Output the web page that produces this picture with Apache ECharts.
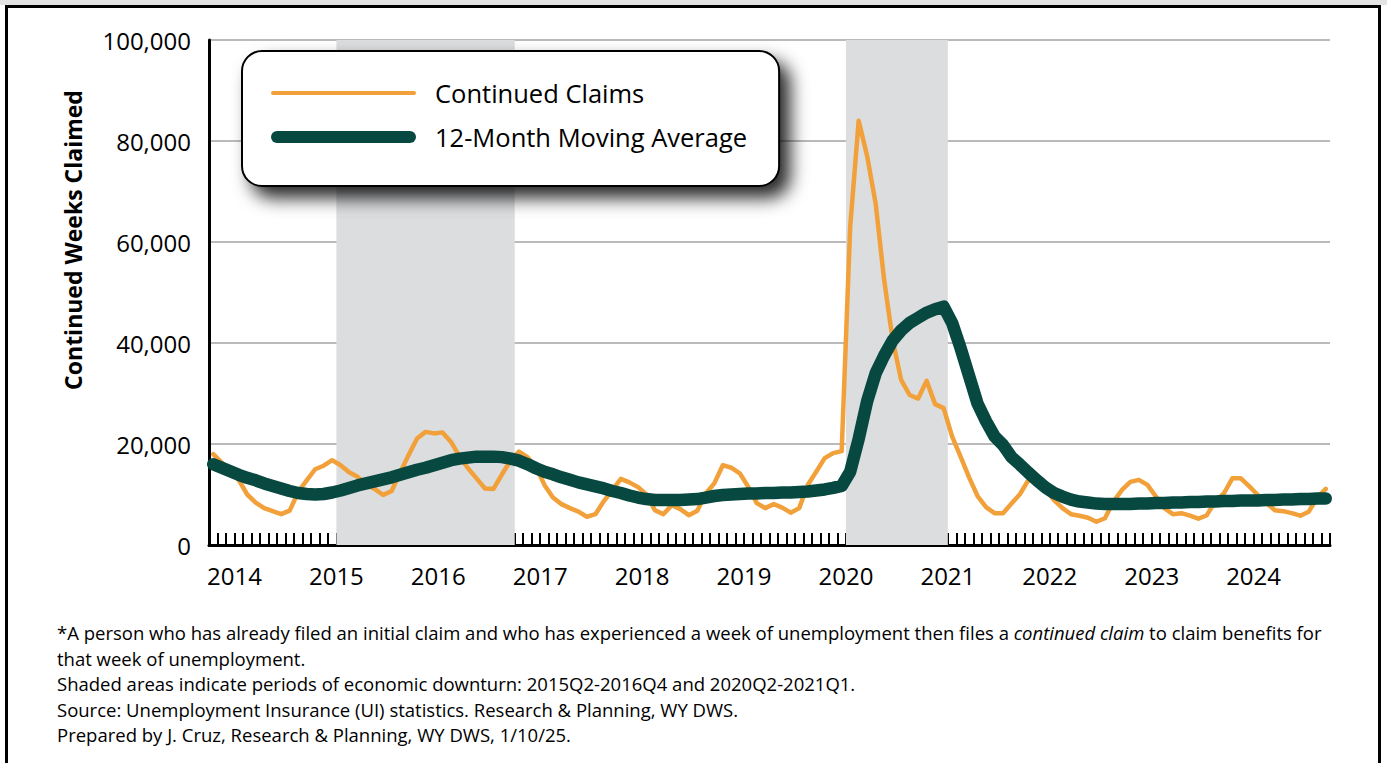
<!DOCTYPE html>
<html><head><meta charset="utf-8">
<script src="https://cdn.jsdelivr.net/npm/echarts@6/dist/echarts.min.js"></script>
<style>
html,body{margin:0;padding:0;background:#fff;width:1387px;height:763px;overflow:hidden;font-family:'Open Sans',sans-serif;}
#strip{position:absolute;left:0;top:0;width:1387px;height:5px;background:#e3e3e3;}
#frame{position:absolute;left:5px;top:5px;width:1370px;height:800px;border:3px solid #000;}
#chart{position:absolute;left:0;top:0;width:1387px;height:610px;}
#notes{position:absolute;left:57px;top:620px;font-size:18.5px;line-height:25.5px;color:#000;white-space:nowrap;}
</style></head>
<body>
<div id="strip"></div>
<div id="frame"></div>
<div id="chart"></div>
<div id="notes">*A person who has already filed an initial claim and who has experienced a week of unemployment then files a <em>continued claim</em> to claim benefits for<br>that week of unemployment.<br>Shaded areas indicate periods of economic downturn: 2015Q2-2016Q4 and 2020Q2-2021Q1.<br>Source: Unemployment Insurance (UI) statistics. Research &amp; Planning, WY DWS.<br>Prepared by J. Cruz, Research &amp; Planning, WY DWS, 1/10/25.</div>
<script>
// Year tick labels (monthly data, Jan 2014 – Dec 2024)
const years = ['2014','2015','2016','2017','2018','2019','2020','2021','2022','2023','2024'];
const yTicks = [0, 20000, 40000, 60000, 80000, 100000];

// Continued weeks claimed, monthly
const continuedClaims = [
  18000,16300,14600,12900,10000,8400,7300,6700,6100,6800,10500,12800,
  15000,15700,16800,15800,14400,13500,12000,11100,9900,10700,14300,17800,
  21100,22400,22100,22300,20400,17500,15200,13200,11200,11100,14000,16700,
  18500,17400,15500,11900,9400,8100,7300,6600,5600,6100,8700,10900,
  13100,12400,11500,10000,6900,6100,7900,7100,5900,6800,10200,12200,
  15800,15300,14200,11500,8300,7300,8100,7400,6400,7300,11900,14500,
  17200,18200,18600,63000,84000,77000,67600,52500,40600,32700,29700,29000,
  32500,27900,27100,21500,17500,13400,9700,7500,6300,6300,8200,10100,
  12900,12500,11100,8900,7300,6100,5800,5400,4600,5300,8600,10900,
  12500,12900,11900,9600,7300,6100,6300,5800,5200,5900,8700,10200,
  13200,13200,11600,9900,8300,6900,6700,6300,5800,6600,9400,11100
];

// 12-month moving average, monthly
const movingAverage = [
  16000,15300,14600,13900,13300,12800,12200,11700,11200,10700,10300,10100,
  10000,10100,10400,10800,11300,11800,12200,12600,13000,13400,13900,14400,
  14900,15300,15800,16300,16800,17100,17300,17500,17500,17500,17400,17100,
  16700,16000,15200,14500,14000,13400,12900,12400,12000,11600,11200,10700,
  10300,9800,9400,9100,8900,8900,8900,8900,9000,9100,9400,9700,
  9900,10000,10100,10200,10200,10300,10300,10400,10400,10500,10600,10800,
  11000,11300,11700,14500,21000,28500,34000,37500,40500,42500,44000,45000,
  46000,46700,47200,44000,39000,33500,28000,24500,21500,19800,17400,15900,
  14300,12800,11400,10300,9600,9000,8600,8400,8200,8100,8100,8100,
  8100,8200,8200,8300,8300,8400,8400,8500,8500,8600,8600,8700,
  8700,8800,8800,8800,8900,8900,9000,9000,9100,9100,9200,9200
];

// Downturn periods: [start month, end month (exclusive)] as [year, month]
const downturns = [[[2015,4],[2017,1]], [[2020,4],[2021,4]]];

const monthIndex = (ym) => (ym[0] - 2014) * 12 + (ym[1] - 1);
const toPoints = (arr) => arr.map((v, i) => [i + 0.5, v]);
const nMonths = years.length * 12;

// legend icons: rounded line strokes inside a 145x12 box
const thinIcon = 'path://M0,0M145,12M2,4H143A2,2 0 0 1 143,8H2A2,2 0 0 1 2,4Z';
const thickIcon = 'path://M6,0H139A6,6 0 0 1 139,12H6A6,6 0 0 1 6,0Z';

const chart = echarts.init(document.getElementById('chart'), null, {renderer: 'svg'});
const FONT = "'Open Sans', sans-serif";
chart.setOption({
  animation: false,
  textStyle: {fontFamily: FONT},
  grid: {left: 209, right: 57, top: 40, height: 505},
  graphic: [{
    type: 'text', x: 73, y: 240, rotation: Math.PI / 2, z: 10,
    style: {text: 'Continued Weeks Claimed', align: 'center', verticalAlign: 'middle',
      font: "bold 23px 'Open Sans', sans-serif", fill: '#000'}
  }],
  legend: {
    data: [
      {name: 'Continued Claims', icon: thinIcon},
      {name: '12-Month Moving Average', icon: thickIcon}
    ],
    orient: 'vertical',
    left: 242, top: 51,
    padding: [27, 32, 34, 29],
    itemWidth: 145, itemHeight: 12, itemGap: 14,
    backgroundColor: '#fff',
    borderColor: '#000', borderWidth: 2, borderRadius: 20,
    shadowBlur: 18, shadowColor: 'rgba(0,0,0,0.85)', shadowOffsetX: 10, shadowOffsetY: 11,
    selectedMode: false,
    itemStyle: {borderWidth: 0},
    textStyle: {fontSize: 25.5, color: '#000', fontFamily: FONT, lineHeight: 30, padding: [0, 0, 0, 14]}
  },
  xAxis: {
    type: 'value', min: 0, max: nMonths, interval: 1,
    axisLine: {show: true, onZero: false, lineStyle: {color: '#000', width: 3}},
    axisTick: {show: true, inside: true, length: 12, lineStyle: {color: '#000', width: 2}},
    splitLine: {show: false},
    axisLabel: {
      show: true, margin: 18, fontSize: 24, color: '#000', fontFamily: FONT, align: 'center',
      formatter: (v) => (v % 12 === 3 && (v - 3) / 12 < years.length) ? years[(v - 3) / 12] : ''
    }
  },
  yAxis: {
    type: 'value', min: yTicks[0], max: yTicks[yTicks.length - 1], interval: yTicks[1] - yTicks[0],
    axisLine: {show: true, lineStyle: {color: '#000', width: 3}},
    axisTick: {show: false},
    splitLine: {show: true, lineStyle: {color: '#a3a3a3', width: 1.5}},
    axisLabel: {
      margin: 18, fontSize: 24, color: '#000', fontFamily: FONT, padding: [18, 0, 0, 0],
      formatter: (v) => v.toLocaleString('en-US')
    }
  },
  series: [
    {
      name: 'shading', type: 'line', data: [], z: -1, silent: true,
      markArea: {
        silent: true,
        itemStyle: {color: '#dcdddf'},
        data: downturns.map(d => [{xAxis: monthIndex(d[0])}, {xAxis: monthIndex(d[1])}])
      }
    },
    {
      name: 'Continued Claims', type: 'line', z: 3,
      data: toPoints(continuedClaims),
      symbol: 'none', showSymbol: false,
      lineStyle: {color: '#f2a03a', width: 4.5, join: 'round', cap: 'round'},
      itemStyle: {color: '#f2a03a'}
    },
    {
      name: '12-Month Moving Average', type: 'line', z: 4,
      data: toPoints(movingAverage),
      symbol: 'none', showSymbol: false,
      lineStyle: {color: '#074840', width: 12.5, join: 'round', cap: 'round'},
      itemStyle: {color: '#074840'}
    }
  ]
});
</script>
</body></html>
